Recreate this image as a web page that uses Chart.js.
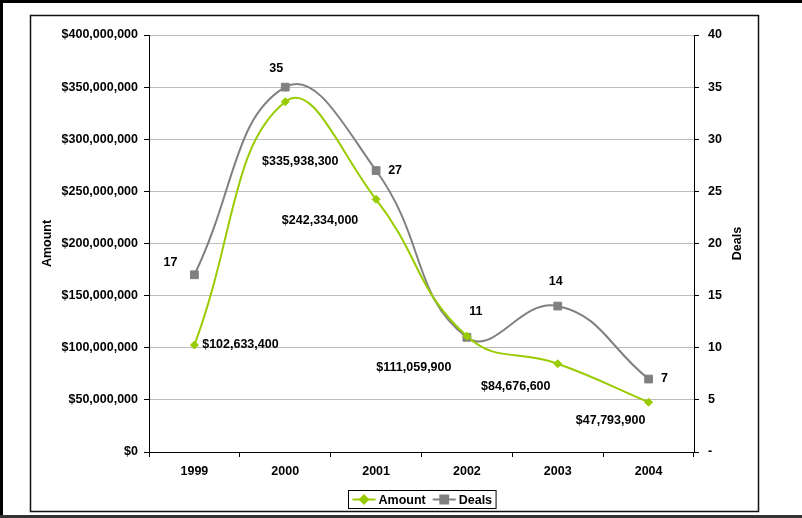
<!DOCTYPE html>
<html lang="en">
<head>
    <meta charset="UTF-8">
    <title>Amount and Deals</title>
    <script src="https://cdn.jsdelivr.net/npm/chart.js"></script>
    <style>
        body { margin: 0; background: #fff; }
        #wrap { width: 802px; height: 518px; }
    </style>
</head>
<body>
    <div id="wrap"><canvas id="dealsChart" width="802" height="518"></canvas></div>

    <script>
        // chart data
        const years = ['1999', '2000', '2001', '2002', '2003', '2004'];
        const amounts = [102633400, 335938300, 242334000, 111059900, 84676600, 47793900];
        const deals = [17, 35, 27, 11, 14, 7];
        const amountMax = 400000000;
        const amountStep = 50000000;
        const dealsMax = 40;
        const dealsStep = 5;

        // where each value label sits relative to its point (px)
        const amountLabelOffsets = [[46, 0], [15, 60], [-56, 21], [-53, 31], [-42, 23], [-38, 18]];
        const dealsLabelOffsets = [[-24, -12], [-9, -19], [19, 0], [9, -26], [-2, -25], [16, 0]];

        const FONT = { family: '"Liberation Sans", Arial, sans-serif', size: 12.5, weight: 'bold' };
        const FONT_CSS = 'bold 12.5px "Liberation Sans", Arial, sans-serif';
        const GREEN = '#99cc00';
        const GRAY = '#808080';

        const money = v => '$' + Math.round(v).toLocaleString('en-US');

        const framePlugin = {
            id: 'frame',
            beforeDraw(chart) {
                const ctx = chart.ctx;
                ctx.save();
                ctx.fillStyle = '#fff';
                ctx.fillRect(0, 0, chart.width, chart.height);
                // outer frame
                ctx.fillStyle = '#000';
                ctx.fillRect(0, 0, chart.width, 3);
                ctx.fillRect(0, 0, 3, chart.height);
                ctx.fillStyle = '#333';
                ctx.fillRect(0, 515, chart.width, 3);
                // inner chart box
                ctx.strokeStyle = '#111';
                ctx.lineWidth = 1.5;
                ctx.strokeRect(30.5, 15.5, 728, 496);
                ctx.restore();
            },
            afterDatasetsDraw(chart) {
                const ctx = chart.ctx;
                ctx.save();
                ctx.font = FONT_CSS;
                ctx.fillStyle = '#000';
                ctx.textAlign = 'center';
                ctx.textBaseline = 'middle';
                const sets = [
                    { idx: 0, fmt: money, offs: amountLabelOffsets },
                    { idx: 1, fmt: v => String(v), offs: dealsLabelOffsets }
                ];
                sets.forEach(s => {
                    const meta = chart.getDatasetMeta(s.idx);
                    const values = chart.data.datasets[s.idx].data;
                    meta.data.forEach((pt, i) => {
                        const o = s.offs[i];
                        ctx.fillText(s.fmt(values[i]), pt.x + o[0], pt.y + o[1]);
                    });
                });

                // right axis title, reads bottom to top
                const r = chart.scales.y1;
                ctx.save();
                ctx.translate(738, (r.top + r.bottom) / 2);
                ctx.rotate(-Math.PI / 2);
                ctx.fillText('Deals', 0, 0);
                ctx.restore();

                // legend with line + marker symbols
                const items = chart.data.datasets.map(ds => ({
                    label: ds.label, color: ds.borderColor, style: ds.pointStyle, radius: ds.pointRadius
                }));
                const lineW = 23, gap = 3, between = 7, pad = 4;
                let total = pad * 2;
                items.forEach((it, i) => {
                    it.w = ctx.measureText(it.label).width;
                    total += lineW + gap + it.w + (i ? between : 0);
                });
                const cx = 422, cy = 499.5;
                const bx = Math.round(cx - total / 2) + 0.5;
                ctx.strokeStyle = '#000';
                ctx.lineWidth = 1;
                ctx.strokeRect(bx, 490.5, total, 18);
                let x = bx + pad;
                ctx.textAlign = 'left';
                items.forEach((it, i) => {
                    if (i) x += between;
                    ctx.strokeStyle = it.color;
                    ctx.lineWidth = 2;
                    ctx.beginPath();
                    ctx.moveTo(x, cy);
                    ctx.lineTo(x + lineW, cy);
                    ctx.stroke();
                    ctx.fillStyle = it.color;
                    Chart.helpers.drawPoint(ctx, { pointStyle: it.style, radius: it.radius, rotation: 0, borderWidth: 1 }, x + lineW / 2, cy);
                    x += lineW + gap;
                    ctx.fillStyle = '#000';
                    ctx.fillText(it.label, x, cy + 1);
                    x += it.w;
                });
                ctx.restore();
            }
        };

        new Chart(document.getElementById('dealsChart'), {
            type: 'line',
            data: {
                labels: years,
                datasets: [{
                    label: 'Amount',
                    data: amounts,
                    yAxisID: 'y',
                    borderColor: GREEN,
                    backgroundColor: GREEN,
                    borderWidth: 2,
                    pointStyle: 'rectRot',
                    pointRadius: 4,
                    pointBorderWidth: 1,
                    tension: 0.45
                }, {
                    label: 'Deals',
                    data: deals,
                    yAxisID: 'y1',
                    borderColor: GRAY,
                    backgroundColor: GRAY,
                    borderWidth: 2,
                    pointStyle: 'rect',
                    pointRadius: 5.5,
                    pointBorderWidth: 1,
                    tension: 0.45
                }]
            },
            options: {
                responsive: false,
                animation: false,
                layout: { padding: { left: 30, right: 44, top: 35, bottom: 36 } },
                plugins: {
                    legend: { display: false },
                    tooltip: { enabled: false }
                },
                scales: {
                    x: {
                        offset: true,
                        grid: { offset: true, drawOnChartArea: false, tickLength: 5, tickColor: '#000' },
                        border: { color: '#000', width: 1 },
                        ticks: { color: '#000', font: FONT, padding: 7, maxRotation: 0 },
                        afterFit: s => { s.height = 30; }
                    },
                    y: {
                        position: 'left',
                        min: 0,
                        max: amountMax,
                        ticks: { stepSize: amountStep, color: '#000', font: FONT, padding: 6, callback: v => money(v) },
                        grid: { color: '#bdbdbd', tickColor: '#000', tickLength: 5 },
                        border: { color: '#000', width: 1 },
                        title: { display: true, text: 'Amount', color: '#000', font: FONT, padding: { top: 10, bottom: 0 } },
                        afterFit: s => { s.width = 119; }
                    },
                    y1: {
                        position: 'right',
                        min: 0,
                        max: dealsMax,
                        ticks: { stepSize: dealsStep, color: '#000', font: FONT, padding: 9, callback: v => v === 0 ? '-' : v },
                        grid: { drawOnChartArea: false, tickColor: '#000', tickLength: 5 },
                        border: { color: '#000', width: 1 },
                        afterFit: s => { s.width = 64; }
                    }
                }
            },
            plugins: [framePlugin]
        });
    </script>
</body>
</html>
